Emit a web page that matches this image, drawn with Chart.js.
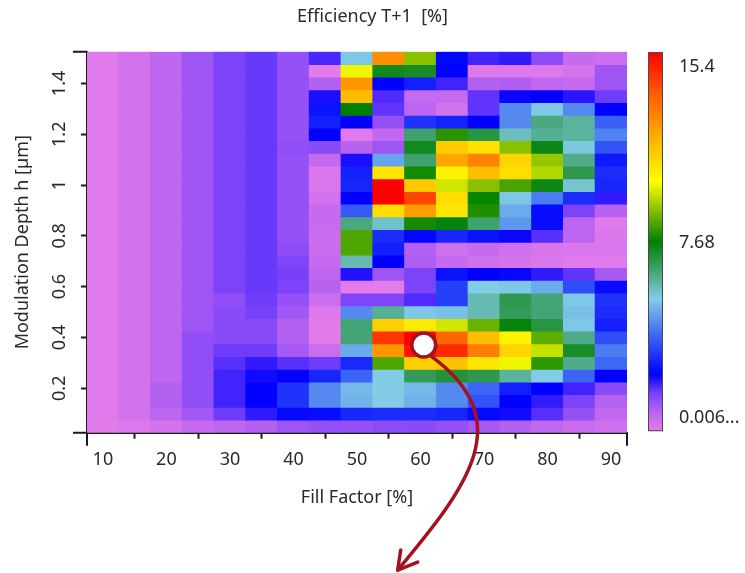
<!DOCTYPE html>
<html>
<head>
<meta charset="utf-8">
<title>Efficiency T+1</title>
<script src="https://cdn.jsdelivr.net/npm/chart.js@4.4.1/dist/chart.umd.min.js"></script>
<style>
  html, body { margin: 0; padding: 0; background: #fff; }
  #wrap { width: 745px; height: 573px; }
</style>
</head>
<body>
<div id="wrap"><canvas id="heatmap" width="745" height="573"></canvas></div>
<script>
// fill factor [%] (column centres) and modulation depth [um] (row centres, top to bottom)
var fillFactor = [10, 15, 20, 25, 30, 35, 40, 45, 50, 55, 60, 65, 70, 75, 80, 85, 90];
var depth = [1.5, 1.45, 1.4, 1.35, 1.3, 1.25, 1.2, 1.15, 1.1, 1.05, 1.0, 0.95, 0.9, 0.85, 0.8,
             0.75, 0.7, 0.65, 0.6, 0.55, 0.5, 0.45, 0.4, 0.35, 0.3, 0.25, 0.2, 0.15, 0.1, 0.05];

// efficiency T+1 [%], one row per depth, one value per fill factor
var efficiency = [
  [0.1, 0.35, 0.7, 1.1, 1.5, 1.65, 1.2, 1.85, 5.3, 12.6, 9.0, 2.4, 1.9, 2.0, 1.3, 0.55, 0.45],
  [0.1, 0.35, 0.7, 1.1, 1.5, 1.65, 1.2, 0.05, 10.0, 7.4, 7.3, 2.3, 0.15, 0.15, 0.15, 0.3, 1.1],
  [0.1, 0.35, 0.7, 1.1, 1.5, 1.65, 1.2, 0.85, 12.4, 2.3, 2.8, 1.9, 0.85, 0.9, 0.65, 0.55, 1.1],
  [0.1, 0.35, 0.7, 1.1, 1.5, 1.65, 1.2, 2.15, 11.6, 1.8, 0.55, 0.55, 1.7, 2.25, 2.3, 2.05, 1.6],
  [0.1, 0.35, 0.7, 1.1, 1.5, 1.65, 1.2, 2.6, 7.7, 1.7, 0.75, 0.35, 1.7, 4.4, 5.3, 4.4, 2.3],
  [0.1, 0.35, 0.7, 1.1, 1.5, 1.65, 1.2, 2.8, 2.3, 1.2, 3.1, 2.85, 2.3, 4.4, 6.4, 6.1, 3.8],
  [0.1, 0.35, 0.7, 1.1, 1.5, 1.65, 1.2, 2.3, 0.1, 0.65, 6.6, 8.1, 7.0, 5.8, 6.2, 6.1, 4.3],
  [0.1, 0.35, 0.7, 1.1, 1.5, 1.65, 1.25, 1.35, 0.8, 1.1, 7.4, 11.3, 10.8, 9.0, 7.5, 5.5, 3.6],
  [0.1, 0.35, 0.7, 1.1, 1.5, 1.65, 1.2, 0.6, 2.15, 4.8, 6.6, 12.1, 12.9, 11.1, 9.1, 6.3, 2.7],
  [0.1, 0.35, 0.7, 1.1, 1.5, 1.65, 1.2, 0.2, 2.8, 10.7, 7.9, 10.4, 11.6, 10.9, 9.4, 6.9, 3.0],
  [0.1, 0.35, 0.7, 1.1, 1.5, 1.65, 1.2, 0.2, 2.9, 15.4, 11.3, 9.7, 9.0, 8.4, 7.5, 5.6, 2.9],
  [0.1, 0.35, 0.7, 1.1, 1.5, 1.65, 1.2, 0.35, 2.3, 15.4, 14.1, 10.9, 7.8, 5.3, 4.2, 3.0, 2.0],
  [0.1, 0.35, 0.7, 1.1, 1.5, 1.65, 1.2, 0.55, 3.7, 10.9, 12.3, 10.7, 8.0, 4.9, 2.5, 1.5, 0.8],
  [0.1, 0.35, 0.7, 1.1, 1.5, 1.65, 1.2, 0.55, 6.4, 5.7, 7.9, 7.6, 6.6, 4.6, 2.5, 0.75, 0.1],
  [0.1, 0.35, 0.7, 1.1, 1.5, 1.65, 1.2, 0.5, 8.45, 3.0, 2.4, 2.9, 2.6, 2.25, 1.75, 0.75, 0.2],
  [0.1, 0.35, 0.7, 1.1, 1.5, 1.65, 1.3, 0.5, 8.45, 2.8, 0.85, 0.4, 0.55, 0.4, 0.25, 0.2, 0.2],
  [0.1, 0.35, 0.7, 1.1, 1.5, 1.65, 1.45, 0.55, 5.9, 2.3, 0.9, 0.55, 0.4, 0.3, 0.2, 0.1, 0.1],
  [0.1, 0.35, 0.7, 1.1, 1.5, 1.65, 1.55, 0.75, 2.1, 1.1, 1.5, 2.6, 2.3, 2.25, 2.0, 1.7, 1.0],
  [0.1, 0.35, 0.7, 1.1, 1.5, 1.65, 1.5, 0.8, 0.05, 0.05, 1.5, 3.3, 5.4, 5.3, 4.9, 3.5, 2.5],
  [0.1, 0.35, 0.7, 1.1, 1.25, 1.6, 1.2, 0.45, 1.45, 1.45, 1.8, 3.3, 5.9, 6.9, 6.5, 5.3, 3.1],
  [0.1, 0.35, 0.7, 1.1, 1.35, 1.55, 1.05, 0.15, 4.4, 6.2, 5.3, 5.2, 5.9, 6.8, 6.5, 5.2, 3.0],
  [0.1, 0.35, 0.7, 1.1, 1.35, 1.35, 0.85, 0.05, 6.5, 11.2, 10.6, 9.7, 8.7, 7.6, 7.0, 5.3, 2.8],
  [0.1, 0.35, 0.7, 1.25, 1.35, 1.35, 0.85, 0.05, 6.5, 14.4, 15.4, 13.5, 11.6, 10.4, 8.6, 6.3, 3.5],
  [0.1, 0.35, 0.7, 1.25, 1.6, 1.6, 1.0, 0.5, 4.9, 12.4, 15.1, 14.6, 13.0, 11.1, 9.6, 7.3, 4.2],
  [0.1, 0.35, 0.7, 1.25, 1.75, 2.0, 1.75, 1.6, 2.95, 8.45, 11.2, 11.5, 10.7, 10.0, 8.15, 6.3, 3.9],
  [0.1, 0.35, 0.7, 1.25, 1.9, 2.2, 2.3, 2.9, 3.85, 5.4, 6.8, 7.1, 6.9, 6.1, 5.4, 3.85, 2.3],
  [0.1, 0.35, 0.85, 1.25, 1.9, 2.3, 3.1, 4.4, 5.1, 5.4, 5.1, 4.4, 3.85, 2.8, 2.3, 1.9, 1.35],
  [0.1, 0.35, 0.85, 1.25, 1.9, 2.3, 3.1, 4.4, 5.0, 5.4, 5.0, 4.4, 3.6, 2.3, 2.0, 1.5, 0.85],
  [0.1, 0.35, 0.7, 1.05, 1.6, 2.0, 2.45, 2.5, 2.9, 3.0, 3.0, 2.9, 2.45, 2.2, 1.75, 1.2, 0.65],
  [0.05, 0.15, 0.3, 0.55, 0.7, 0.85, 1.1, 1.2, 1.2, 1.3, 1.35, 1.2, 1.0, 0.85, 0.65, 0.5, 0.4]
];

var xTicks = [10, 20, 30, 40, 50, 60, 70, 80, 90];
var yTicks = [0.2, 0.4, 0.6, 0.8, 1, 1.2, 1.4];
var colorTicks = [0.006, 7.68, 15.4];
var colorTickLabels = ['0.006...', '7.68', '15.4'];
var zMin = 0.006, zMax = 15.4;

// colormap: position 0..1, r, g, b
var colorStops = [
  [0.00, 230, 125, 235],
  [0.05, 185, 100, 240],
  [0.10, 120, 65, 250],
  [0.15, 0, 0, 255],
  [0.25, 60, 100, 245],
  [0.35, 130, 205, 230],
  [0.42, 70, 165, 120],
  [0.50, 0, 128, 0],
  [0.58, 130, 190, 0],
  [0.66, 255, 255, 0],
  [0.78, 255, 170, 0],
  [0.88, 255, 100, 0],
  [1.00, 255, 0, 0]
];

var textColor = '#262a31';
var axisColor = '#1a1a1a';

function colorAt(v) {
  var t = Math.max(0, Math.min(1, (v - zMin) / (zMax - zMin)));
  for (var i = 1; i < colorStops.length; i++) {
    if (t <= colorStops[i][0]) {
      var a = colorStops[i - 1], b = colorStops[i];
      var k = (t - a[0]) / (b[0] - a[0]);
      return 'rgb(' + [1, 2, 3].map(function (j) {
        return Math.round(a[j] + (b[j] - a[j]) * k);
      }).join(',') + ')';
    }
  }
  return 'rgb(255,0,0)';
}

var halfCol = (fillFactor[1] - fillFactor[0]) / 2;
var halfRow = (depth[0] - depth[1]) / 2;

// one floating-bar dataset per depth row
var datasets = depth.map(function (h, r) {
  return {
    label: 'h = ' + h,
    data: fillFactor.map(function (f) {
      return { x: f, y: [h - halfRow, h + halfRow] };
    }),
    backgroundColor: efficiency[r].map(colorAt),
    borderWidth: 0,
    grouped: false,
    barPercentage: 1,
    categoryPercentage: 1,
    inflateAmount: 0.5
  };
});

// keep the plot area where the axes say, no extra room for edge labels
function noEdgePadding(s) {
  s.paddingTop = 0; s.paddingBottom = 0; s.paddingLeft = 0; s.paddingRight = 0;
}

// gradient bar next to the colour axis
var colorBar = {
  id: 'colorBar',
  afterDraw: function (chart) {
    var s = chart.scales.cb, ctx = chart.ctx;
    var top = s.getPixelForValue(zMax) + 0.5, bottom = s.getPixelForValue(zMin) - 1.5;
    var left = s.left + 21, width = 15;
    var g = ctx.createLinearGradient(0, bottom, 0, top);
    colorStops.forEach(function (st) {
      g.addColorStop(st[0], 'rgb(' + st.slice(1).join(',') + ')');
    });
    ctx.save();
    ctx.fillStyle = g;
    ctx.fillRect(left, top, width, bottom - top);
    ctx.strokeStyle = '#4a4a4a';
    ctx.lineWidth = 1;
    ctx.strokeRect(left + 0.5, top + 0.5, width - 1, bottom - top - 1);
    ctx.restore();
  }
};

// longer marks at both ends of each axis
var axisCaps = {
  id: 'axisCaps',
  afterDraw: function (chart) {
    var a = chart.chartArea, ctx = chart.ctx;
    ctx.save();
    ctx.strokeStyle = axisColor;
    ctx.lineWidth = 2;
    ctx.beginPath();
    ctx.moveTo(a.left - 14, a.top); ctx.lineTo(a.left, a.top);
    ctx.moveTo(a.left - 14, a.bottom); ctx.lineTo(a.left, a.bottom);
    ctx.moveTo(a.left, a.bottom); ctx.lineTo(a.left, a.bottom + 13);
    ctx.moveTo(a.right, a.bottom); ctx.lineTo(a.right, a.bottom + 13);
    ctx.stroke();
    ctx.restore();
  }
};

// ring marker and curved arrow pointing at the peak
var pointer = {
  id: 'pointer',
  afterDraw: function (chart) {
    var ctx = chart.ctx;
    var cx = chart.scales.x.getPixelForValue(60.5);
    var cy = chart.scales.y.getPixelForValue(0.37);
    ctx.save();
    ctx.strokeStyle = '#a3121f';
    ctx.lineWidth = 3.5;
    ctx.lineCap = 'round';
    ctx.lineJoin = 'round';
    ctx.beginPath();
    ctx.moveTo(cx + 6, cy + 10);
    ctx.bezierCurveTo(cx + 96, cy + 75, cx + 44, cy + 141, cx - 26, cy + 225);
    ctx.stroke();
    var tx = cx - 26, ty = cy + 225;
    ctx.beginPath();
    ctx.moveTo(tx + 3, ty - 20);
    ctx.lineTo(tx, ty);
    ctx.lineTo(tx + 20, ty - 8);
    ctx.stroke();
    ctx.beginPath();
    ctx.arc(cx, cy, 12, 0, Math.PI * 2);
    ctx.fillStyle = '#fff';
    ctx.fill();
    ctx.stroke();
    ctx.restore();
  }
};

Chart.defaults.font.family = '"Noto Sans", "Open Sans", sans-serif';
Chart.defaults.font.size = 18;
Chart.defaults.color = textColor;

new Chart(document.getElementById('heatmap'), {
  type: 'bar',
  data: { datasets: datasets },
  options: {
    responsive: false,
    animation: false,
    events: [],
    layout: { padding: 0 },
    plugins: {
      legend: { display: false },
      tooltip: { enabled: false },
      title: {
        display: true,
        text: 'Efficiency T+1  [%]',
        color: textColor,
        font: { size: 18, weight: 'normal' },
        padding: { top: 6, bottom: 24.1 }
      }
    },
    scales: {
      x: {
        type: 'linear',
        position: 'bottom',
        min: fillFactor[0] - halfCol,
        max: fillFactor[fillFactor.length - 1] + halfCol,
        offset: false,
        afterBuildTicks: function (s) { s.ticks = xTicks.map(function (v) { return { value: v }; }); },
        afterFit: function (s) { s.height = 140.3; noEdgePadding(s); },
        ticks: { padding: 10, maxRotation: 0, color: textColor },
        grid: { drawOnChartArea: false, tickLength: 6, tickWidth: 2, tickColor: axisColor },
        border: { display: true, color: axisColor, width: 2 },
        title: { display: true, text: 'Fill Factor [%]', color: textColor, padding: { top: 0, bottom: 64 } }
      },
      y: {
        type: 'linear',
        position: 'left',
        min: depth[depth.length - 1] - halfRow,
        max: depth[0] + halfRow,
        afterBuildTicks: function (s) { s.ticks = yTicks.map(function (v) { return { value: v }; }); },
        afterFit: function (s) { s.width = 87; noEdgePadding(s); },
        ticks: {
          minRotation: 90, maxRotation: 90, crossAlign: 'center', padding: 8, color: textColor,
          callback: function (v) { return String(v); }
        },
        grid: { drawOnChartArea: false, tickLength: 6, tickWidth: 2, tickColor: axisColor },
        border: { display: true, color: axisColor, width: 2 },
        title: { display: true, text: 'Modulation Depth h [µm]', color: textColor, padding: { top: 12, bottom: 0 } }
      },
      cb: {
        type: 'linear',
        position: 'right',
        min: zMin,
        max: zMax,
        afterBuildTicks: function (s) { s.ticks = colorTicks.map(function (v) { return { value: v }; }); },
        afterFit: function (s) { s.width = 118; noEdgePadding(s); },
        ticks: {
          padding: 52,
          color: textColor,
          font: { size: 18, lineHeight: 1.7 },
          autoSkip: false,
          callback: function (v, i) {
            var text = colorTickLabels[i];
            if (i === 0) return [text, ''];
            if (i === colorTicks.length - 1) return ['', text];
            return text;
          }
        },
        grid: { display: false, drawTicks: false },
        border: { display: false }
      }
    }
  },
  plugins: [colorBar, axisCaps, pointer]
});
</script>
</body>
</html>
